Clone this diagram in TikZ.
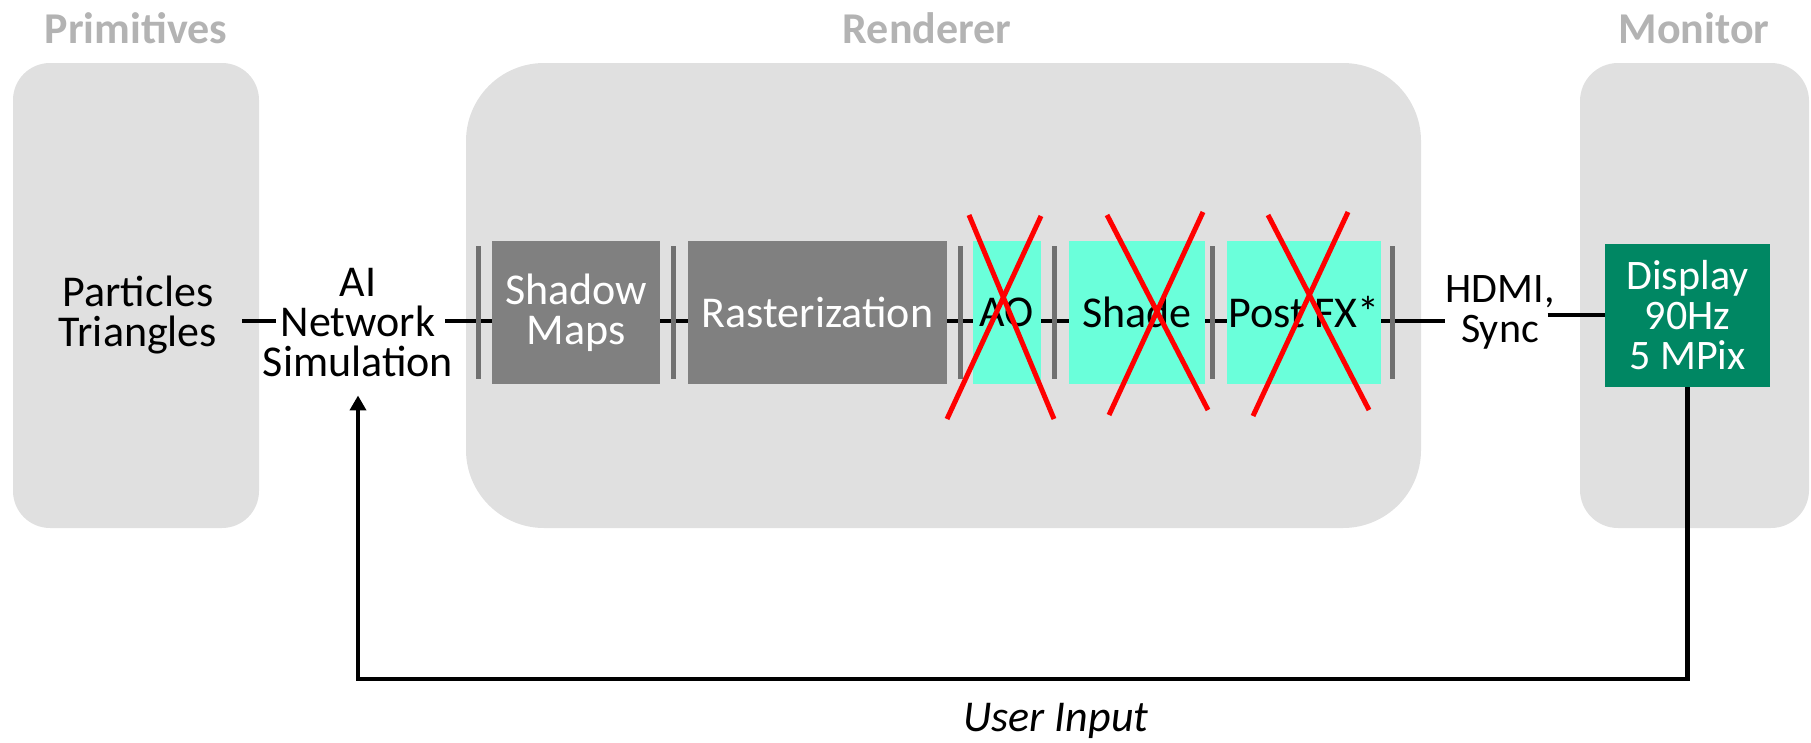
\documentclass[tikz,border=0pt]{standalone}
\usepackage{fontspec}
\setmainfont{Carlito}
\usetikzlibrary{arrows.meta,calc}

\definecolor{panelbg}{HTML}{E0E0E0}
\definecolor{titlegray}{HTML}{B3B3B3}
\definecolor{stagegray}{HTML}{808080}
\definecolor{bargray}{HTML}{707070}
\definecolor{aqua}{HTML}{6AFFDA}
\definecolor{dispgreen}{HTML}{008763}
\definecolor{strikered}{HTML}{FF0000}

\newcommand\diagfont{\fontsize{44}{40}\selectfont}
\newcommand\smallerfont{\fontsize{42}{40}\selectfont}

\pgfdeclarelayer{background}
\pgfsetlayers{background,main}

\begin{document}
\begin{tikzpicture}[x=1pt,y=-1pt,
  paneltitle/.style={font=\diagfont\bfseries, text=titlegray, anchor=base, inner sep=0pt},
  plain/.style={font=\diagfont, align=center, inner sep=0pt},
  stagebox/.style={font=\diagfont, align=center, inner sep=0pt, minimum height=143pt},
  idlebox/.style={stagebox, fill=stagegray, text=white},
  livebox/.style={stagebox, fill=aqua, text=black},
  divider/.style={fill=bargray, minimum width=5pt, minimum height=133pt, inner sep=0pt},
  wire/.style={line width=4.5pt},
  strike/.style={draw=strikered, line width=5pt},
]
\useasboundingbox (0,0) rectangle (1811,742);

% section titles
\node[paneltitle] (tprim) at (136,43) {Primitives};
\node[paneltitle] (trend) at (927,43) {Renderer};
\node[paneltitle] (tmon)  at (1694,43) {Monitor};

% free-standing labels
\node[plain] (ptri) at (138,315) {Particles\\Triangles};
\node[plain] (ai)   at (358,323) {AI\\Network\\Simulation};
\node[plain, font=\smallerfont] (hdmi) at (1500,312) {HDMI,\\Sync};

% renderer stages
\node[idlebox, minimum width=168pt] (shadow) at (576,312.5)   {Shadow\\Maps};
\node[idlebox, minimum width=259pt] (raster) at (817.5,312.5) {Rasterization};
\node[livebox, minimum width=68pt]  (ao)     at (1007,312.5)  {AO};
\node[livebox, minimum width=136pt] (shade)  at (1137,312.5)  {Shade};
\node[livebox, minimum width=154pt] (post)   at (1304,312.5)  {Post FX*};

% pipeline separators
\node[divider] (b1) at (478.5,312.5) {};
\node[divider] (b2) at (673,312.5)   {};
\node[divider] (b3) at (960,312.5)   {};
\node[divider] (b4) at (1054,312.5)  {};
\node[divider] (b5) at (1212.5,312.5){};
\node[divider] (b6) at (1392,312.5)  {};

% display
\node[stagebox, font=\smallerfont, fill=dispgreen, text=white, minimum width=165pt] (display) at (1687.5,315.5) {Display\\90Hz\\5 MPix};

\coordinate (row)  at (0,321);
\coordinate (row2) at (0,315);
\coordinate (fb)   at (0,679);

\begin{pgfonlayer}{background}
  % grouping panels
  \fill[panelbg, rounded corners=37pt] (13,63) rectangle (259,528);
  \fill[panelbg, rounded corners=78pt] (466,63) rectangle (1421,528);
  \fill[panelbg, rounded corners=38pt] (1580,63) rectangle (1809,528);
  % data path
  \draw[wire] ($(ptri.east |- row)+(25,0)$) -- ($(ai.west |- row)+(13,0)$);
  \draw[wire] ($(ai.east |- row)+(-8,0)$) -- (shadow.west |- row);
  \draw[wire] (shadow.east |- row) -- (raster.west |- row);
  \draw[wire] (raster.east |- row) -- (ao.west |- row);
  \draw[wire] (ao.east |- row) -- (shade.west |- row);
  \draw[wire] (shade.east |- row) -- (post.west |- row);
  \draw[wire] (post.east |- row) -- (hdmi.west |- row);
  \draw[wire] ($(hdmi.east |- row2)+(-7,0)$) -- (display.west |- row2);
\end{pgfonlayer}

% user input feedback loop
\draw[wire, -{Triangle[width=16pt,length=15pt]}]
  (display.south) -- (display.south |- fb) -| ($(ai.south)+(0,18)$);
\node[font=\diagfont\itshape, anchor=base, inner sep=0pt] (uin) at (1056,731) {User Input};

% disabled stages
\draw[strike] (969,215) -- (1054,419);
\draw[strike] (1041,216) -- (947,419);
\draw[strike] (1107,215) -- (1208,410);
\draw[strike] (1203,212) -- (1109,415);
\draw[strike] (1268,215) -- (1369,410);
\draw[strike] (1348,212) -- (1253,416);
\end{tikzpicture}
\end{document}
